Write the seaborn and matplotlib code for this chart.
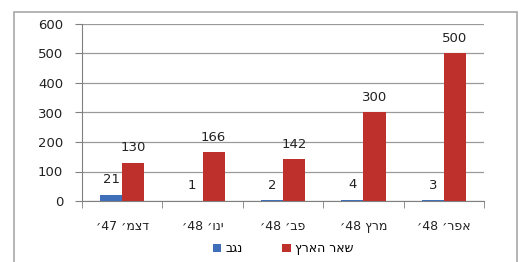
import re
import pandas as pd
import matplotlib.pyplot as plt
import seaborn as sns
from matplotlib.patches import Rectangle


def visual(s):
    # matplotlib has no bidi: put the Hebrew in display order, keep digit runs
    r = s[::-1]
    return re.sub(r"\d+", lambda m: m.group(0)[::-1], r)


months = ["דצמ׳ 47׳", "ינו׳ 48׳", "פב׳ 48׳", "מרץ 48׳", "אפר׳ 48׳"]
series = ["נגב", "שאר הארץ"]
negev = [21, 1, 2, 4, 3]
rest = [130, 166, 142, 300, 500]
colors = ["#3f6fb8", "#bd302c"]

df = pd.DataFrame({
    "month": [visual(m) for m in months] * 2,
    "series": [visual(series[0])] * 5 + [visual(series[1])] * 5,
    "value": negev + rest,
})

plt.rcParams["font.family"] = ["DejaVu Sans"]
fig = plt.figure(figsize=(5.25, 2.62), dpi=100)
ax = fig.add_axes([82 / 525, 1 - 201 / 262, 402 / 525, 177 / 262])

sns.barplot(data=df, x="month", y="value", hue="series", palette=colors,
            width=0.55, gap=0, saturation=1, ax=ax, zorder=3)

for cont in ax.containers:
    ax.bar_label(cont, padding=6, fontsize=9.5, color="#222222")

ax.set_ylim(0, 600)
ax.set_yticks(range(0, 601, 100))
ax.set_xlim(-0.5, 4.5)
ax.set_xlabel("")
ax.set_ylabel("")
ax.grid(axis="y", color="#9a9a9a", linewidth=0.9, zorder=0)
ax.set_axisbelow(True)
for side in ["top", "right"]:
    ax.spines[side].set_visible(False)
for side in ["left", "bottom"]:
    ax.spines[side].set_color("#808080")
ax.tick_params(axis="y", length=5, color="#808080", labelsize=9.5, pad=8.5,
               labelcolor="#222222")
ax.tick_params(axis="x", which="major", length=0, labelsize=9, pad=14,
               labelcolor="#222222")
ax.set_xticks([i - 0.5 for i in range(6)], minor=True)
ax.tick_params(axis="x", which="minor", length=5, color="#808080")

sns.move_legend(ax, "center", bbox_to_anchor=(0.5, -0.27), ncol=2, title=None,
                frameon=False, fontsize=9, handlelength=0.7, handleheight=0.7,
                handletextpad=0.3, columnspacing=3.2)

fig.patches.append(Rectangle((14 / 525, -0.02), 503 / 525, 1 - 12 / 262 + 0.02,
                             transform=fig.transFigure, fill=False,
                             edgecolor="#a8a8a8", linewidth=1.2))

fig.savefig("out.png", dpi=100)
